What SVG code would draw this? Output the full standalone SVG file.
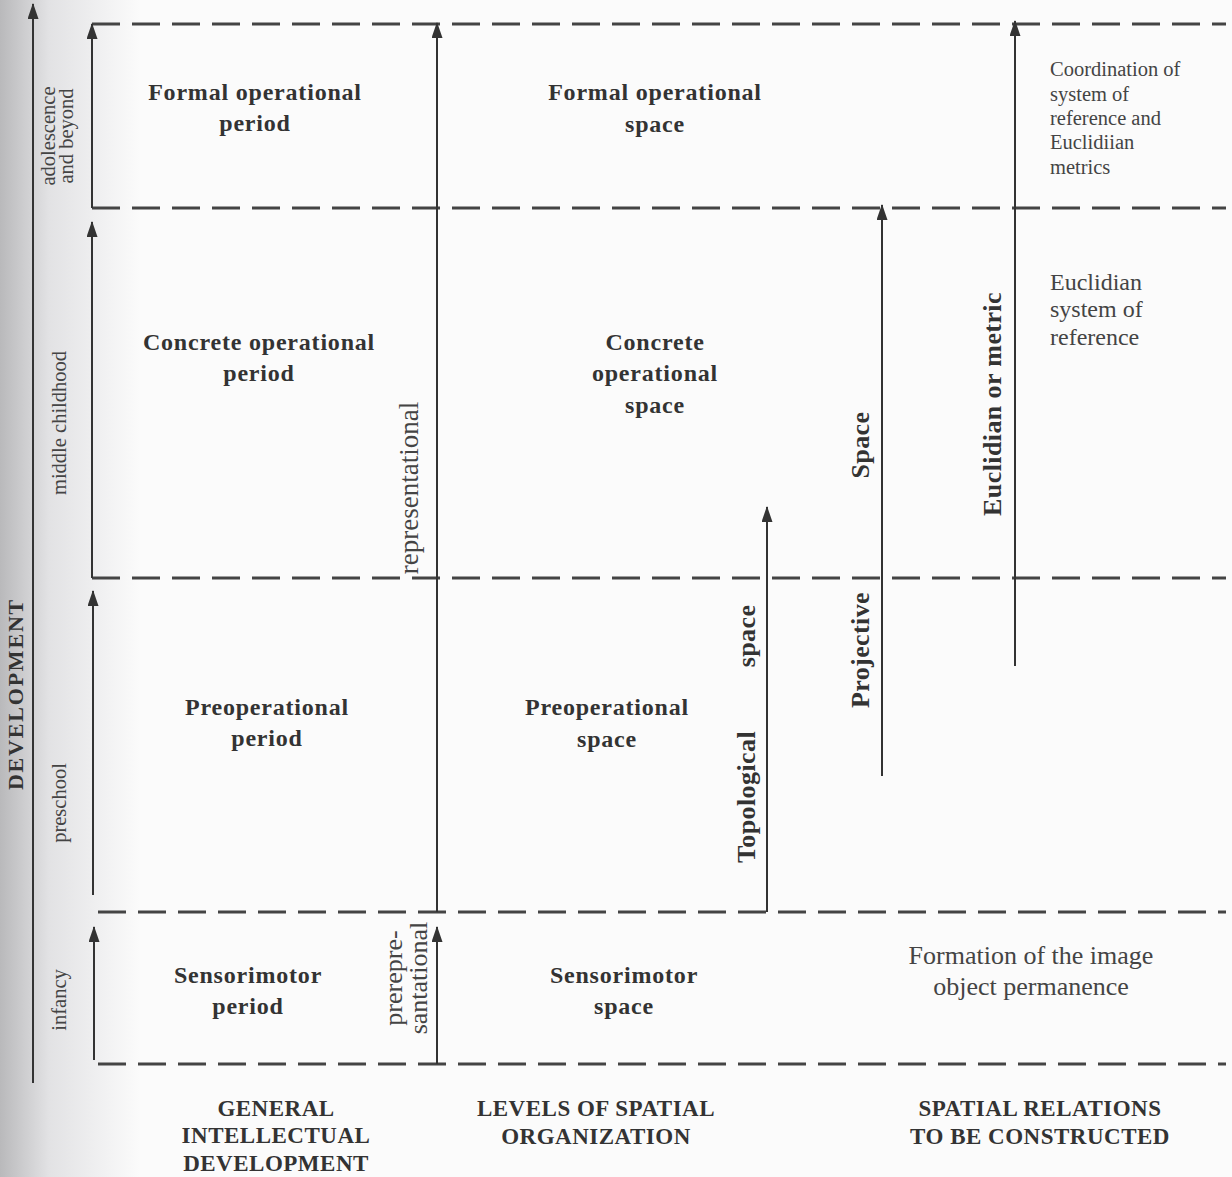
<svg xmlns="http://www.w3.org/2000/svg" width="1232" height="1177" viewBox="0 0 1232 1177">
<defs>
<linearGradient id="shade" x1="0" y1="0" x2="1" y2="0">
<stop offset="0" stop-color="#b9b9bb"/>
<stop offset="0.35" stop-color="#e2e2e4"/>
<stop offset="1" stop-color="#fbfbfb"/>
</linearGradient>
<marker id="ah" viewBox="0 0 16 11" refX="15" refY="5.5" markerWidth="16" markerHeight="11" markerUnits="userSpaceOnUse" orient="auto">
<path d="M0,0 L16,5.5 L0,11 Z" fill="#333"/>
</marker>
<style>
.dash{stroke:#444;stroke-width:3;stroke-dasharray:28 12;fill:none}
.arr{stroke:#333;stroke-width:2;fill:none}
.b{font-family:"Liberation Serif",serif;font-weight:bold;font-size:24px;letter-spacing:0.8px;fill:#333;text-anchor:middle}
.v{font-family:"Liberation Serif",serif;font-weight:bold;font-size:26px;letter-spacing:0.4px;fill:#333;text-anchor:middle}
.h{font-family:"Liberation Serif",serif;font-weight:bold;font-size:23px;letter-spacing:0.5px;fill:#333;text-anchor:middle}
.r{font-family:"Liberation Serif",serif;font-size:24px;fill:#444}
.s{font-family:"Liberation Serif",serif;font-size:20.5px;fill:#444}
.age{font-family:"Liberation Serif",serif;font-size:20.5px;fill:#444;text-anchor:middle}
</style>
</defs>
<rect width="1232" height="1177" fill="#fbfbfb"/>
<rect width="140" height="1177" fill="url(#shade)"/>

<g id="connectors">
<line class="dash" x1="92" y1="24" x2="1226" y2="24"/>
<line class="dash" x1="92" y1="208" x2="1226" y2="208"/>
<line class="dash" x1="92" y1="578" x2="1226" y2="578"/>
<line class="dash" x1="98" y1="912" x2="1226" y2="912"/>
<line class="dash" x1="98" y1="1064" x2="1226" y2="1064"/>
<line class="arr" x1="33" y1="1083" x2="33" y2="4" marker-end="url(#ah)"/>
<line class="arr" x1="92" y1="208" x2="92" y2="24" marker-end="url(#ah)"/>
<line class="arr" x1="92" y1="578" x2="92" y2="222" marker-end="url(#ah)"/>
<line class="arr" x1="93" y1="895" x2="93" y2="591" marker-end="url(#ah)"/>
<line class="arr" x1="94" y1="1060" x2="94" y2="927" marker-end="url(#ah)"/>
<line class="arr" x1="437" y1="912" x2="437" y2="23" marker-end="url(#ah)"/>
<line class="arr" x1="437" y1="1064" x2="437" y2="927" marker-end="url(#ah)"/>
<line class="arr" x1="767" y1="912" x2="767" y2="507" marker-end="url(#ah)"/>
<line class="arr" x1="882" y1="776" x2="882" y2="205" marker-end="url(#ah)"/>
<line class="arr" x1="1015" y1="666" x2="1015" y2="21" marker-end="url(#ah)"/>
</g>

<g id="axis-label">
<text transform="translate(23,694) rotate(-90)" style="font-family:'Liberation Serif',serif;font-weight:bold;font-size:22px;fill:#333;text-anchor:middle;letter-spacing:1.8px">DEVELOPMENT</text>
</g>
<g id="ages">
<text class="age" transform="translate(55,136) rotate(-90)">adolescence</text>
<text class="age" transform="translate(73,136) rotate(-90)">and beyond</text>
<text class="age" transform="translate(66,423) rotate(-90)">middle childhood</text>
<text class="age" transform="translate(66,803) rotate(-90)">preschool</text>
<text class="age" transform="translate(66,1000) rotate(-90)">infancy</text>
</g>

<g id="formal-period"><text class="b" x="255" y="100">Formal operational</text><text class="b" x="255" y="131">period</text></g>
<g id="formal-space"><text class="b" x="655" y="100">Formal operational</text><text class="b" x="655" y="132">space</text></g>
<g id="concrete-period"><text class="b" x="259" y="350">Concrete operational</text><text class="b" x="259" y="381">period</text></g>
<g id="concrete-space"><text class="b" x="655" y="350">Concrete</text><text class="b" x="655" y="381">operational</text><text class="b" x="655" y="413">space</text></g>
<g id="preop-period"><text class="b" x="267" y="715">Preoperational</text><text class="b" x="267" y="746">period</text></g>
<g id="preop-space"><text class="b" x="607" y="715">Preoperational</text><text class="b" x="607" y="747">space</text></g>
<g id="senso-period"><text class="b" x="248" y="983">Sensorimotor</text><text class="b" x="248" y="1014">period</text></g>
<g id="senso-space"><text class="b" x="624" y="983">Sensorimotor</text><text class="b" x="624" y="1014">space</text></g>

<g id="representational"><text class="r" transform="translate(418,488) rotate(-90)" text-anchor="middle" style="font-size:27px">representational</text></g>
<g id="prerepresentational">
<text class="r" transform="translate(402,978) rotate(-90)" text-anchor="middle" style="font-size:26px">prerepre-</text>
<text class="r" transform="translate(427,978) rotate(-90)" text-anchor="middle" style="font-size:26px">santational</text>
</g>

<g id="topological">
<text class="v" transform="translate(755,797) rotate(-90)">Topological</text>
<text class="v" transform="translate(755,636) rotate(-90)">space</text>
</g>
<g id="projective">
<text class="v" transform="translate(869,650) rotate(-90)">Projective</text>
<text class="v" transform="translate(869,445) rotate(-90)">Space</text>
</g>
<g id="euclidian"><text class="v" transform="translate(1001,404) rotate(-90)">Euclidian or metric</text></g>

<g id="coordination">
<text class="s" x="1050" y="76">Coordination of</text>
<text class="s" x="1050" y="101">system of</text>
<text class="s" x="1050" y="125">reference and</text>
<text class="s" x="1050" y="149">Euclidiian</text>
<text class="s" x="1050" y="174">metrics</text>
</g>
<g id="euclidian-system">
<text class="r" x="1050" y="290">Euclidian</text>
<text class="r" x="1050" y="317">system of</text>
<text class="r" x="1050" y="345">reference</text>
</g>
<g id="formation">
<text class="r" x="1031" y="964" text-anchor="middle" style="font-size:26px">Formation of the image</text>
<text class="r" x="1031" y="995" text-anchor="middle" style="font-size:26px">object permanence</text>
</g>

<g id="headers">
<text class="h" x="276" y="1116">GENERAL</text>
<text class="h" x="276" y="1143">INTELLECTUAL</text>
<text class="h" x="276" y="1171">DEVELOPMENT</text>
<text class="h" x="596" y="1116">LEVELS OF SPATIAL</text>
<text class="h" x="596" y="1144">ORGANIZATION</text>
<text class="h" x="1040" y="1116">SPATIAL RELATIONS</text>
<text class="h" x="1040" y="1144">TO BE CONSTRUCTED</text>
</g>
</svg>
